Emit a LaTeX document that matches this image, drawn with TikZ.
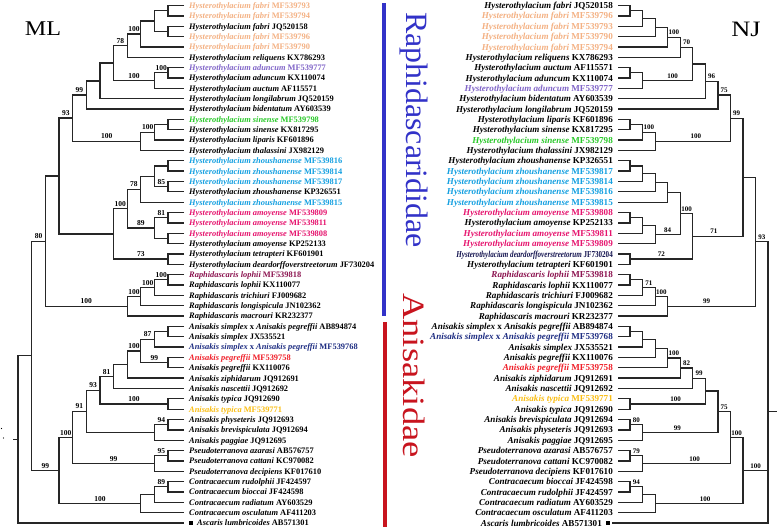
\documentclass[tikz,border=0pt]{standalone}
\usepackage{fontspec}
\usepackage{graphicx}
\setmainfont{Liberation Serif}
\usetikzlibrary{calc}
\definecolor{cpeach}{RGB}{244,177,131}
\definecolor{cpurp}{RGB}{128,100,200}
\definecolor{cgreen}{RGB}{40,200,40}
\definecolor{ccyan}{RGB}{20,160,225}
\definecolor{cpink}{RGB}{230,20,110}
\definecolor{cmaroon}{RGB}{140,20,80}
\definecolor{cnavy}{RGB}{30,45,130}
\definecolor{cdnavy}{RGB}{20,20,80}
\definecolor{cred}{RGB}{240,30,40}
\definecolor{cgold}{RGB}{250,190,20}
\definecolor{cblue}{RGB}{50,50,200}
\definecolor{cdred}{RGB}{200,20,30}
\newcommand\mkjoin[4]{%
  \path ($(#3)!.5!(#4)$) coordinate (tmpmid);
  \coordinate (#1) at (#2 |- tmpmid);
  \draw[br] (#3) -| (#1) |- (#4);
}
\newcommand\bslab[5][0]{\node[#2, xshift=#1pt] (bs#3) at ($(#3)!.5!(#3 -| #4)$) {#5};}
\newcommand\mll[3]{\node[mlab, text=#2] (ml#1) at ($(m#1)+(5,2.9)$) {#3};}
\newcommand\njl[3]{\node[njlab, text=#2] (nj#1) at ($(n#1)+(-5,3.1)$) {#3};}
\begin{document}
\begin{tikzpicture}[x=1pt,y=-1pt,
  br/.style={draw=black!85, line width=1.3pt},
  mlab/.style={font=\fontsize{8.4}{9}\selectfont\bfseries, anchor=base west, inner sep=0pt},
  njlab/.style={font=\fontsize{9.1}{10}\selectfont\bfseries, anchor=base east, inner sep=0pt},
  bsm/.style={font=\fontsize{7.5}{8}\selectfont\bfseries, anchor=base, inner sep=0pt, yshift=2.4pt},
  bsn/.style={font=\fontsize{7}{8}\selectfont\bfseries, anchor=base, inner sep=0pt, yshift=2.4pt},
]
\useasboundingbox (0,0) rectangle (778,528);
\fill[white] (0,0) rectangle (778,528);
\foreach \i in {1,...,51} {
  \coordinate (m\i) at (184, {5.5+(\i-1)*10.35});
  \coordinate (n\i) at (618, {5.5+(\i-1)*10.35});
}
\coordinate (n51) at (612, 523);
\foreach \h in {1,...,12} {
  \coordinate (mlL\h) at ({181.7-13.63*\h}, 0);
  \coordinate (njL\h) at ({617.5+12.55*\h}, 0);
}
% ---------------- ML tree ----------------
\mkjoin{aA1}{mlL1}{m1}{m2}
\mkjoin{aA2}{mlL1}{m3}{m4}
\mkjoin{aA3}{mlL2}{aA1}{aA2}
\mkjoin{aA4}{mlL3}{aA3}{m5}
\mkjoin{aA5}{mlL4}{aA4}{m6}
\mkjoin{aA6}{mlL1}{m7}{m8}
\mkjoin{aA7}{mlL2}{aA6}{m9}
\mkjoin{aA8}{mlL5}{aA5}{aA7}
\mkjoin{aA9}{mlL6}{aA8}{m10}
\mkjoin{aA10}{mlL7}{aA9}{m11}
\mkjoin{aB1}{mlL1}{m12}{m13}
\mkjoin{aB2}{mlL2}{aB1}{m14}
\mkjoin{aB3}{mlL3}{aB2}{m15}
\mkjoin{aA11}{mlL8}{aA10}{aB3}
\mkjoin{aC1}{mlL1}{m16}{m17}
\mkjoin{aC2}{mlL1}{m18}{m19}
\mkjoin{aC3}{mlL2}{aC1}{aC2}
\mkjoin{aC4}{mlL3}{aC3}{m20}
\mkjoin{aD1}{mlL1}{m21}{m22}
\mkjoin{aD2}{mlL1}{m23}{m24}
\mkjoin{aD3}{mlL2}{aD1}{aD2}
\mkjoin{aC5}{mlL4}{aC4}{aD3}
\mkjoin{aT}{mlL1}{m25}{m26}
\mkjoin{aC6}{mlL5}{aC5}{aT}
\mkjoin{aA12}{mlL9}{aA11}{aC6}
\mkjoin{aR1}{mlL1}{m27}{m28}
\mkjoin{aR2}{mlL2}{aR1}{m29}
\mkjoin{aR3}{mlL3}{aR2}{m30}
\mkjoin{aR4}{mlL4}{aR3}{m31}
\mkjoin{aA13}{mlL10}{aA12}{aR4}
\mkjoin{aE1}{mlL1}{m32}{m33}
\mkjoin{aE2}{mlL2}{aE1}{m34}
\mkjoin{aE3}{mlL1}{m35}{m36}
\mkjoin{aE4}{mlL3}{aE2}{aE3}
\mkjoin{aE5}{mlL4}{aE4}{m37}
\mkjoin{aE6}{mlL5}{aE5}{m38}
\mkjoin{aTy}{mlL1}{m39}{m40}
\mkjoin{aE7}{mlL6}{aE6}{aTy}
\mkjoin{aPh}{mlL1}{m41}{m42}
\mkjoin{aE8}{mlL2}{aPh}{m43}
\mkjoin{aE9}{mlL7}{aE7}{aE8}
\mkjoin{aPs}{mlL1}{m44}{m45}
\mkjoin{aP2}{mlL2}{aPs}{m46}
\mkjoin{aE10}{mlL8}{aE9}{aP2}
\mkjoin{aCo}{mlL1}{m47}{m48}
\mkjoin{aCo2}{mlL2}{aCo}{m49}
\mkjoin{aCo3}{mlL3}{aCo2}{m50}
\mkjoin{aE11}{mlL9}{aE10}{aCo3}
\mkjoin{aN32}{mlL11}{aA13}{aE11}
\mkjoin{aRoot}{mlL12}{aN32}{m51}
\coordinate (aStub) at ($(aRoot)+(-5,0)$);
\draw[br] (aStub) -- (aRoot);
\fill (1.5,428.5) circle (0.7);
\fill (3.5,438) circle (0.7);
% ML bootstrap
\bslab{bsm}{aA4}{aA5}{100}
\bslab{bsm}{aA5}{aA8}{78}
\bslab{bsm}{aA6}{aA7}{100}
\bslab{bsm}{aA7}{aA8}{100}
\bslab{bsm}{aA10}{aA11}{99}
\bslab{bsm}{aA11}{aA12}{93}
\bslab{bsm}{aB2}{aB3}{100}
\bslab{bsm}{aB3}{aA11}{100}
\bslab{bsm}{aC2}{aC3}{85}
\bslab{bsm}{aC4}{aC5}{78}
\bslab{bsm}{aD1}{aD3}{81}
\bslab{bsm}{aD3}{aC5}{89}
\bslab{bsm}{aC5}{aC6}{100}
\bslab{bsm}{aT}{aC6}{73}
\bslab{bsm}{aA13}{aN32}{80}
\bslab{bsm}{aR1}{aR2}{100}
\bslab{bsm}{aR2}{aR3}{100}
\bslab{bsm}{aR3}{aR4}{100}
\bslab{bsm}{aR4}{aA13}{100}
\bslab{bsm}{aE2}{aE4}{87}
\bslab{bsm}{aE3}{aE4}{99}
\bslab{bsm}{aE4}{aE5}{100}
\bslab{bsm}{aE6}{aE7}{81}
\bslab{bsm}{aTy}{aE7}{100}
\bslab{bsm}{aE7}{aE9}{93}
\bslab{bsm}{aPh}{aE8}{94}
\bslab{bsm}{aE9}{aE10}{91}
\bslab{bsm}{aPs}{aP2}{95}
\bslab{bsm}{aP2}{aE10}{99}
\bslab{bsm}{aE10}{aE11}{100}
\bslab{bsm}{aCo}{aCo2}{89}
\bslab{bsm}{aCo3}{aE11}{100}
\bslab{bsm}{aE11}{aN32}{99}
% ML labels
\mll{1}{cpeach}{\textit{Hysterothylacium fabri} MF539793}
\mll{2}{cpeach}{\textit{Hysterothylacium fabri} MF539794}
\mll{3}{black}{\textit{Hysterothylacium fabri} JQ520158}
\mll{4}{cpeach}{\textit{Hysterothylacium fabri} MF539796}
\mll{5}{cpeach}{\textit{Hysterothylacium fabri} MF539790}
\mll{6}{black}{\textit{Hysterothylacium reliquens} KX786293}
\mll{7}{cpurp}{\textit{Hysterothylacium aduncum} MF539777}
\mll{8}{black}{\textit{Hysterothylacium aduncum} KX110074}
\mll{9}{black}{\textit{Hysterothylacium auctum} AF115571}
\mll{10}{black}{\textit{Hysterothylacium longilabrum} JQ520159}
\mll{11}{black}{\textit{Hysterothylacium bidentatum} AY603539}
\mll{12}{cgreen}{\textit{Hysterothylacium sinense} MF539798}
\mll{13}{black}{\textit{Hysterothylacium sinense} KX817295}
\mll{14}{black}{\textit{Hysterothylacium liparis} KF601896}
\mll{15}{black}{\textit{Hysterothylacium thalassini} JX982129}
\mll{16}{ccyan}{\textit{Hysterothylacium zhoushanense} MF539816}
\mll{17}{ccyan}{\textit{Hysterothylacium zhoushanense} MF539814}
\mll{18}{ccyan}{\textit{Hysterothylacium zhoushanense} MF539817}
\mll{19}{black}{\textit{Hysterothylacium zhoushanense} KP326551}
\mll{20}{ccyan}{\textit{Hysterothylacium zhoushanense} MF539815}
\mll{21}{cpink}{\textit{Hysterothylacium amoyense} MF539809}
\mll{22}{cpink}{\textit{Hysterothylacium amoyense} MF539811}
\mll{23}{cpink}{\textit{Hysterothylacium amoyense} MF539808}
\mll{24}{black}{\textit{Hysterothylacium amoyense} KP252133}
\mll{25}{black}{\textit{Hysterothylacium tetrapteri} KF601901}
\mll{26}{black}{\textit{Hysterothylacium deardorffoverstreetorum} JF730204}
\mll{27}{cmaroon}{\textit{Raphidascaris lophii} MF539818}
\mll{28}{black}{\textit{Raphidascaris lophii} KX110077}
\mll{29}{black}{\textit{Raphidascaris trichiuri} FJ009682}
\mll{30}{black}{\textit{Raphidascaris longispicula} JN102362}
\mll{31}{black}{\textit{Raphidascaris macrouri} KR232377}
\mll{32}{black}{\textit{Anisakis simplex} x \textit{Anisakis pegreffii} AB894874}
\mll{33}{black}{\textit{Anisakis simplex} JX535521}
\mll{34}{cnavy}{\textit{Anisakis simplex} x \textit{Anisakis pegreffii} MF539768}
\mll{35}{cred}{\textit{Anisakis pegreffii} MF539758}
\mll{36}{black}{\textit{Anisakis pegreffii} KX110076}
\mll{37}{black}{\textit{Anisakis ziphidarum} JQ912691}
\mll{38}{black}{\textit{Anisakis nascettii} JQ912692}
\mll{39}{black}{\textit{Anisakis typica} JQ912690}
\mll{40}{cgold}{\textit{Anisakis typica} MF539771}
\mll{41}{black}{\textit{Anisakis physeteris} JQ912693}
\mll{42}{black}{\textit{Anisakis brevispiculata} JQ912694}
\mll{43}{black}{\textit{Anisakis paggiae} JQ912695}
\mll{44}{black}{\textit{Pseudoterranova azarasi} AB576757}
\mll{45}{black}{\textit{Pseudoterranova cattani} KC970082}
\mll{46}{black}{\textit{Pseudoterranova decipiens} KF017610}
\mll{47}{black}{\textit{Contracaecum rudolphii} JF424597}
\mll{48}{black}{\textit{Contracaecum bioccai} JF424598}
\mll{49}{black}{\textit{Contracaecum radiatum} AY603529}
\mll{50}{black}{\textit{Contracaecum osculatum} AF411203}
\node[fill=black, inner sep=0pt, minimum size=4.4pt] (mlsq) at ($(m51)+(7.2,0)$) {};
\node[mlab] (ml51) at ($(m51)+(13,2.9)$) {\textit{Ascaris lumbricoides} AB571301};
% ---------------- NJ tree ----------------
\mkjoin{bN1}{njL1}{n1}{n2}
\mkjoin{bN2}{njL2}{bN1}{n3}
\mkjoin{bN3}{njL3}{bN2}{n4}
\mkjoin{bN4}{njL4}{bN3}{n5}
\mkjoin{bN5}{njL5}{bN4}{n6}
\mkjoin{bN6}{njL1}{n7}{n8}
\mkjoin{bN7}{njL2}{bN6}{n9}
\mkjoin{bN8}{njL6}{bN5}{bN7}
\mkjoin{bN9}{njL7}{bN8}{n10}
\mkjoin{bN10}{njL8}{bN9}{n11}
\mkjoin{bS1}{njL1}{n12}{n13}
\mkjoin{bS2}{njL2}{bS1}{n14}
\mkjoin{bS3}{njL3}{bS2}{n15}
\mkjoin{bN11}{njL9}{bN10}{bS3}
\mkjoin{bZ1}{njL1}{n16}{n17}
\mkjoin{bZ2}{njL2}{bZ1}{n18}
\mkjoin{bZ3}{njL3}{bZ2}{n19}
\mkjoin{bZ4}{njL4}{bZ3}{n20}
\mkjoin{bM1}{njL1}{n21}{n22}
\mkjoin{bM2}{njL2}{bM1}{n23}
\mkjoin{bM3}{njL3}{bM2}{n24}
\mkjoin{bZA}{njL5}{bZ4}{bM3}
\mkjoin{bT}{njL1}{n25}{n26}
\mkjoin{bZAT}{njL6}{bZA}{bT}
\mkjoin{bN12}{njL10}{bN11}{bZAT}
\mkjoin{bR1}{njL1}{n27}{n28}
\mkjoin{bR2}{njL2}{bR1}{n29}
\mkjoin{bR3}{njL3}{bR2}{n30}
\mkjoin{bR4}{njL4}{bR3}{n31}
\mkjoin{bN13}{njL11}{bN12}{bR4}
\mkjoin{bE1}{njL1}{n32}{n33}
\mkjoin{bE2}{njL2}{bE1}{n34}
\mkjoin{bE3}{njL3}{bE2}{n35}
\mkjoin{bE4}{njL4}{bE3}{n36}
\mkjoin{bE5}{njL5}{bE4}{n37}
\mkjoin{bE6}{njL6}{bE5}{n38}
\mkjoin{bTy}{njL1}{n39}{n40}
\mkjoin{bX}{njL7}{bE6}{bTy}
\mkjoin{bPh}{njL1}{n41}{n42}
\mkjoin{bPh2}{njL2}{bPh}{n43}
\mkjoin{bQ}{njL8}{bX}{bPh2}
\mkjoin{bPs}{njL1}{n44}{n45}
\mkjoin{bPs2}{njL2}{bPs}{n46}
\mkjoin{bQ2}{njL9}{bQ}{bPs2}
\mkjoin{bCo}{njL1}{n47}{n48}
\mkjoin{bCo2}{njL2}{bCo}{n49}
\mkjoin{bCo3}{njL3}{bCo2}{n50}
\mkjoin{bQ3}{njL10}{bQ2}{bCo3}
\path ($0.33333*(bN13)+0.33333*(bQ3)+0.33334*(n51)$) coordinate (tmpmid);
\coordinate (bRoot) at (njL12 |- tmpmid);
\draw[br] (bN13) -| (bRoot) |- (n51);
\draw[br] (bQ3) -- (bQ3 -| bRoot);
\coordinate (bStub) at ($(bRoot)+(9,0)$);
\draw[br] (bRoot) -- (bStub);
% NJ bootstrap
\bslab{bsn}{bN4}{bN5}{100}
\bslab{bsn}{bN5}{bN8}{70}
\bslab[5]{bsn}{bN7}{bN8}{100}
\bslab{bsn}{bN9}{bN10}{96}
\bslab{bsn}{bN10}{bN11}{75}
\bslab{bsn}{bS2}{bS3}{100}
\bslab[3]{bsn}{bS3}{bN11}{100}
\bslab{bsn}{bN11}{bN12}{99}
\bslab{bsn}{bZA}{bZAT}{100}
\bslab{bsn}{bM3}{bZA}{84}
\bslab{bsn}{bT}{bZAT}{72}
\bslab[-4]{bsn}{bZAT}{bN12}{71}
\bslab{bsn}{bR2}{bR3}{71}
\bslab{bsn}{bR3}{bR4}{100}
\bslab[-5]{bsn}{bR4}{bN13}{99}
\bslab{bsn}{bN13}{bRoot}{93}
\bslab{bsn}{bE4}{bE5}{100}
\bslab{bsn}{bE5}{bE6}{82}
\bslab{bsn}{bE6}{bX}{99}
\bslab[8]{bsn}{bTy}{bX}{100}
\bslab{bsn}{bQ}{bQ2}{75}
\bslab{bsn}{bPh}{bPh2}{80}
\bslab[-3]{bsn}{bPh2}{bQ}{99}
\bslab{bsn}{bQ2}{bQ3}{100}
\bslab{bsn}{bPs}{bPs2}{79}
\bslab[8]{bsn}{bPs2}{bQ2}{100}
\bslab{bsn}{bQ3}{bRoot}{100}
\bslab{bsn}{bCo}{bCo2}{94}
\bslab[6]{bsn}{bCo3}{bQ3}{100}
% NJ labels
\njl{1}{black}{\textit{Hysterothylacium fabri} JQ520158}
\njl{2}{cpeach}{\textit{Hysterothylacium fabri} MF539796}
\njl{3}{cpeach}{\textit{Hysterothylacium fabri} MF539793}
\njl{4}{cpeach}{\textit{Hysterothylacium fabri} MF539790}
\njl{5}{cpeach}{\textit{Hysterothylacium fabri} MF539794}
\njl{6}{black}{\textit{Hysterothylacium reliquens} KX786293}
\njl{7}{black}{\textit{Hysterothylacium auctum} AF115571}
\njl{8}{black}{\textit{Hysterothylacium aduncum} KX110074}
\njl{9}{cpurp}{\textit{Hysterothylacium aduncum} MF539777}
\njl{10}{black}{\textit{Hysterothylacium bidentatum} AY603539}
\njl{11}{black}{\textit{Hysterothylacium longilabrum} JQ520159}
\njl{12}{black}{\textit{Hysterothylacium liparis} KF601896}
\njl{13}{black}{\textit{Hysterothylacium sinense} KX817295}
\njl{14}{cgreen}{\textit{Hysterothylacium sinense} MF539798}
\njl{15}{black}{\textit{Hysterothylacium thalassini} JX982129}
\njl{16}{black}{\textit{Hysterothylacium zhoushanense} KP326551}
\njl{17}{ccyan}{\textit{Hysterothylacium zhoushanense} MF539817}
\njl{18}{ccyan}{\textit{Hysterothylacium zhoushanense} MF539814}
\njl{19}{ccyan}{\textit{Hysterothylacium zhoushanense} MF539816}
\njl{20}{ccyan}{\textit{Hysterothylacium zhoushanense} MF539815}
\njl{21}{cpink}{\textit{Hysterothylacium amoyense} MF539808}
\njl{22}{black}{\textit{Hysterothylacium amoyense} KP252133}
\njl{23}{cpink}{\textit{Hysterothylacium amoyense} MF539811}
\njl{24}{cpink}{\textit{Hysterothylacium amoyense} MF539809}
\njl{25}{cdnavy}{\scalebox{0.78}[1]{\textit{Hysterothylacium deardorffoverstreetorum} JF730204}}
\njl{26}{black}{\textit{Hysterothylacium tetrapteri} KF601901}
\njl{27}{cmaroon}{\textit{Raphidascaris lophii} MF539818}
\njl{28}{black}{\textit{Raphidascaris lophii} KX110077}
\njl{29}{black}{\textit{Raphidascaris trichiuri} FJ009682}
\njl{30}{black}{\textit{Raphidascaris longispicula} JN102362}
\njl{31}{black}{\textit{Raphidascaris macrouri} KR232377}
\njl{32}{black}{\textit{Anisakis simplex} x \textit{Anisakis pegreffii} AB894874}
\njl{33}{cnavy}{\textit{Anisakis simplex} x \textit{Anisakis pegreffii} MF539768}
\njl{34}{black}{\textit{Anisakis simplex} JX535521}
\njl{35}{black}{\textit{Anisakis pegreffii} KX110076}
\njl{36}{cred}{\textit{Anisakis pegreffii} MF539758}
\njl{37}{black}{\textit{Anisakis ziphidarum} JQ912691}
\njl{38}{black}{\textit{Anisakis nascettii} JQ912692}
\njl{39}{cgold}{\textit{Anisakis typica} MF539771}
\njl{40}{black}{\textit{Anisakis typica} JQ912690}
\njl{41}{black}{\textit{Anisakis brevispiculata} JQ912694}
\njl{42}{black}{\textit{Anisakis physeteris} JQ912693}
\njl{43}{black}{\textit{Anisakis paggiae} JQ912695}
\njl{44}{black}{\textit{Pseudoterranova azarasi} AB576757}
\njl{45}{black}{\textit{Pseudoterranova cattani} KC970082}
\njl{46}{black}{\textit{Pseudoterranova decipiens} KF017610}
\njl{47}{black}{\textit{Contracaecum bioccai} JF424598}
\njl{48}{black}{\textit{Contracaecum rudolphii} JF424597}
\njl{49}{black}{\textit{Contracaecum radiatum} AY603529}
\njl{50}{black}{\textit{Contracaecum osculatum} AF411203}
\node[fill=black, inner sep=0pt, minimum size=4.4pt] (njsq) at ($(n51)+(-4,0)$) {};
\node[njlab] (nj51) at ($(n51)+(-10,3.1)$) {\textit{Ascaris lumbricoides} AB571301};
% ---------------- headers, bars, families ----------------
\node[font=\fontsize{21}{21}\selectfont, inner sep=0pt] (mlhead) at (43,29) {\scalebox{1.15}[1]{ML}};
\node[font=\fontsize{22}{22}\selectfont, inner sep=0pt] (njhead) at (746,29) {\scalebox{1.2}[1]{NJ}};
\fill[cblue] (382,3) rectangle (386,316);
\fill[cdred] (383,322) rectangle (387,527);
\node[rotate=-90, text=cblue, font=\fontsize{31}{31}\selectfont, inner sep=0pt] (fam1) at (414,130) {\scalebox{1.03}[1]{Raphidascarididae}};
\node[rotate=-90, text=cdred, font=\fontsize{31}{31}\selectfont, inner sep=0pt] (fam2) at (414,375.5) {\scalebox{1.18}[1]{Anisakidae}};
\end{tikzpicture}
\end{document}
